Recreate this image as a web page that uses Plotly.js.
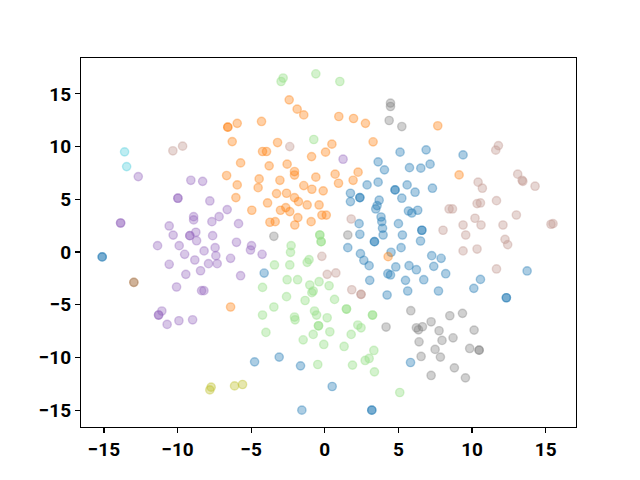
<!DOCTYPE html>
<html>
<head>
<meta charset="utf-8">
<script src="https://cdn.plot.ly/plotly-3.0.1.min.js"></script>
<style>html,body{margin:0;padding:0;background:#fff}#chart{width:640px;height:480px}</style>
</head>
<body>
<div id="chart"></div>
<script>
// ---- data ----
const blueX = [-15.12,-15.12,-4.12,5.11,6.88,3.62,4.05,5.75,6.52,7.15,3.62,1.74,1.74,2.87,2.38,2.38,3.69,3.55,3.46,4.77,4.77,5.59,6.13,5.23,7.31,5.68,5.91,6.31,3.82,3.87,3.92,3.96,2.33,5.0,6.59,6.59,2.38,5.27,6.5,3.37,3.37,1.56,5.18,4.5,2.42,7.26,2.65,3.01,4.82,5.72,6.22,7.4,7.9,4.28,4.46,3.05,5.48,6.72,8.21,4.23,5.63,7.72,9.39,13.74,10.57,10.12,12.33,12.33,-4.77,-3.1,-1.65,-1.56,0.5,3.19,3.19,5.82];
const blueY = [-0.47,-0.47,-2.0,9.47,9.69,8.55,7.79,8.0,7.95,8.33,6.62,5.57,4.78,6.36,5.16,5.16,4.91,4.4,4.08,5.89,5.89,6.36,5.67,5.1,6.05,3.89,3.7,3.96,3.32,2.88,2.25,1.61,2.69,2.69,2.06,2.06,1.68,1.61,1.04,0.98,0.98,0.41,0.41,-0.03,-0.16,-0.35,-0.79,-1.3,-1.42,-1.3,-1.68,-1.36,-0.6,-2.06,-2.18,-2.69,-2.69,-2.63,-2.06,-4.08,-3.7,-3.7,9.21,-1.8,-2.6,-3.45,-4.34,-4.34,-10.42,-9.97,-10.8,-15.0,-12.76,-15.0,-15.0,-10.48];

const orangeX = [-12.97,-6.67,-5.95,-6.04,-4.46,-4.53,-3.05,-2.06,-3.28,-2.6,-1.43,-0.88,-0.61,-0.11,-2.06,-1.79,-1.2,-3.89,-4.96,-3.01,-2.65,-2.38,-1.83,-0.93,-0.39,-0.2,0.1,-3.73,-3.37,-2.04,-2.42,-1.88,-1.43,-6.59,-6.59,-5.95,-4.3,-6.29,-3.21,-4.23,-3.96,-5.72,-3.78,-2.56,-2.06,-0.9,0.05,0.95,1.95,2.76,3.28,0.48,7.67,0.7,2.26,1.92,0.93,4.3,9.12,-6.4];
const orangeY = [-2.88,7.25,6.36,5.16,6.93,6.1,6.8,7.3,5.54,5.57,6.3,5.95,7.1,5.8,5.16,4.78,4.46,4.65,3.96,3.96,4.21,3.83,3.26,2.88,4.46,3.5,3.5,2.82,2.88,2.56,14.43,13.55,13.0,11.84,11.84,12.2,12.38,10.47,10.38,9.53,9.53,8.45,8.17,8.33,7.63,9.05,9.47,12.85,12.66,12.2,10.45,10.23,11.97,7.38,7.57,6.8,6.52,-0.44,7.31,-5.22];

const greenX = [-2.83,-2.97,-0.61,1.02,-0.75,-0.34,-0.34,-0.25,-0.25,-2.29,-2.33,-3.42,-2.38,-1.07,-1.2,-2.56,-1.85,-4.23,-1.02,-0.79,-0.88,-0.39,-2.6,-1.34,0.29,0.66,-4.23,-3.46,-2.06,-2.02,-4.0,-0.7,-0.56,-0.43,-0.43,-1.47,-0.79,-0.07,-0.48,1.47,1.47,3.24,3.24,0.16,0.34,2.24,2.46,1.79,1.31,3.33,3.01,2.74,1.88,3.37,5.09];
const greenY = [16.5,16.17,16.9,16.17,10.67,1.61,1.61,0.98,0.98,0.6,-0.03,-1.23,-1.23,-0.73,-0.98,-2.63,-2.63,-3.36,-3.13,-3.7,-3.86,-2.82,-4.24,-4.6,-3.2,-4.5,-5.98,-5.22,-6.17,-6.43,-7.63,-5.6,-5.98,-7.0,-7.0,-8.33,-7.82,-8.77,-10.67,-5.41,-5.41,-5.98,-5.98,-6.24,-7.57,-6.93,-7.19,-7.82,-8.96,-9.34,-10.1,-10.29,-10.73,-11.37,-13.33];

const purpleX = [-12.67,-9.1,-8.3,-9.98,-9.98,-13.87,-13.87,-8.91,-8.91,-10.57,-9.17,-9.17,-8.76,-10.3,-8.71,-11.36,-9.89,-9.52,-8.83,-8.2,-10.57,-8.44,-9.44,-10.07,-8.37,-8.21,-7.81,-6.63,-7.18,-7.67,-5.86,-7.62,-6.0,-7.45,-7.4,-4.98,-5.05,-4.26,-6.4,-7.9,-7.31,-5.72,1.24,-11.29,-11.29,-11.07,-10.71,-9.91,-8.98];
const purpleY = [7.15,6.8,6.7,5.1,5.1,2.75,2.75,3.35,3.04,2.47,1.55,1.55,1.87,1.6,1.07,0.6,0.6,-0.22,-0.76,0.1,-1.17,-1.78,-2.12,-3.32,-3.67,-3.67,4.84,4.02,3.35,2.88,2.69,1.55,0.92,0.41,-0.35,0.6,0.19,-0.22,-0.6,-1.11,-1.11,-2.25,8.8,-5.98,-5.98,-5.6,-6.87,-6.52,-6.43];

const grayX = [-3.46,-12.97,1.56,4.46,4.46,4.37,5.23,4.16,5.84,6.22,6.36,6.63,7.22,7.76,7.96,6.4,7.49,7.85,6.54,7.22,8.49,9.35,8.71,10.14,9.84,10.48,10.48,8.8,9.55];
const grayY = [1.49,-2.88,1.61,14.12,13.8,12.47,11.9,-7.12,-5.57,-7.19,-7.38,-7.09,-6.62,-7.47,-8.39,-8.52,-9.24,-9.97,-9.91,-11.71,-6.05,-5.82,-8.14,-7.41,-9.15,-9.31,-9.31,-10.99,-11.94];

const brownX = [-10.32,-9.66,-2.38,-0.2,1.79,0.16,0.75,1.83,2.46,2.46,8.03,11.79,11.61,13.1,13.4,13.45,10.41,10.7,14.28,8.44,8.67,10.34,10.57,11.66,13.01,10.2,9.39,10.61,12.1,15.36,15.5,9.57,12.24,12.42,9.39,10.34,11.66];
const brownY = [9.6,10.04,10.0,-0.41,3.13,-2.12,-1.99,-3.58,-4.02,-4.02,2.06,10.09,9.66,7.38,6.8,6.7,6.62,6.05,6.24,4.08,4.08,4.59,4.65,4.87,3.51,3.2,2.56,2.56,2.56,2.63,2.69,1.61,1.2,0.7,0.1,0.28,-1.61];

const cyanX = [-13.6,-13.46];
const cyanY = [9.5,8.1];

const oliveX = [-7.72,-7.81,-6.13,-5.59];
const oliveY = [-12.82,-13.08,-12.7,-12.57];

const xTicks = [-15,-10,-5,0,5,10,15];
const yTicks = [-15,-10,-5,0,5,10,15];

// ---- drawing ----
function tr(x, y, rgb, a) {
  const c = 'rgba(' + rgb + ',' + a + ')';
  return {
    x: x, y: y, type: 'scatter', mode: 'markers', hoverinfo: 'skip',
    marker: {size: 8.3, color: c, line: {color: c, width: 1.4}}
  };
}
const data = [
  tr(blueX, blueY, '31,119,180', 0.37),
  tr(orangeX, orangeY, '255,127,14', 0.37),
  tr(greenX, greenY, '152,223,138', 0.42),
  tr(purpleX, purpleY, '148,103,189', 0.37),
  tr(grayX, grayY, '127,127,127', 0.37),
  tr(brownX, brownY, '196,156,148', 0.4),
  tr(cyanX, cyanY, '23,190,207', 0.28),
  tr(oliveX, oliveY, '188,189,34', 0.37)
];
const axisCommon = {
  showgrid: false, zeroline: false, showline: true, mirror: true,
  linecolor: '#000', linewidth: 1.1, ticks: 'outside', ticklen: 5,
  tickwidth: 1.1, tickcolor: '#000', tickmode: 'array',
  tickfont: {family: 'Roboto, DejaVu Sans, sans-serif', size: 19, color: '#000', weight: 'bold'}
};
const layout = {
  width: 640, height: 480,
  margin: {l: 81, r: 64, t: 58, b: 53, pad: 0},
  paper_bgcolor: '#fff', plot_bgcolor: '#fff',
  showlegend: false,
  xaxis: Object.assign({}, axisCommon, {range: [-16.56, 17.06], tickvals: xTicks}),
  yaxis: Object.assign({}, axisCommon, {range: [-16.6, 18.4], tickvals: yTicks})
};
Plotly.newPlot('chart', data, layout, {staticPlot: true, displayModeBar: false});
</script>
</body>
</html>
